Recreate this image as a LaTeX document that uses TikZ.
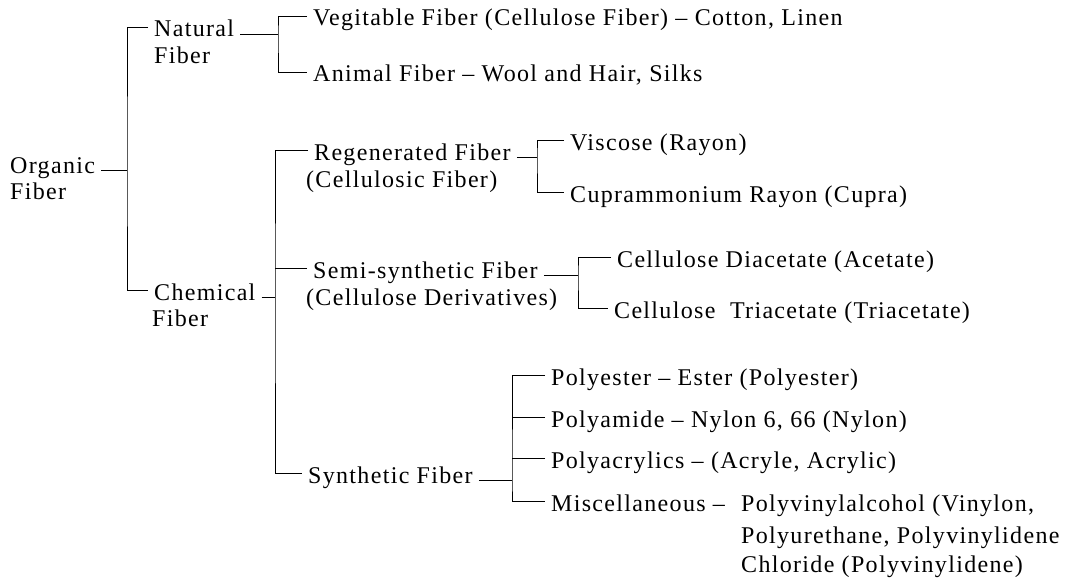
\documentclass[tikz,border=0pt]{standalone}
\usepackage{fontspec}
\setmainfont{Liberation Serif}[LetterSpace=5.5]
\tikzset{
  lbl/.style={font=\fontsize{24}{28}\selectfont, inner xsep=6pt, inner ysep=0pt,
    text height=20pt, text depth=0pt, anchor=base west},
  link/.style={draw, line width=0.9pt}
}
\begin{document}
\begin{tikzpicture}[x=1pt, y=-1pt]
\useasboundingbox (0,0) rectangle (1067,583);
% first level
\node[lbl] (org) at (4,173) {Organic};
\node[lbl] (orgb) at (4,199) {Fiber};
\node[lbl] (nat) at (148,37) {Natural};
\node[lbl] (natb) at (148,64) {Fiber};
\node[lbl] (chem) at (148,300) {Chemical};
\node[lbl] (chemb) at (146,326) {Fiber};
% natural fibers
\node[lbl] (veg) at (307,26) {Vegitable Fiber (Cellulose Fiber) – Cotton, Linen};
\node[lbl] (ani) at (307,82) {Animal Fiber – Wool and Hair, Silks};
% chemical fibers
\node[lbl] (reg) at (308,160) {Regenerated Fiber};
\node[lbl] (regb) at (300,187) {(Cellulosic Fiber)};
\node[lbl] (visc) at (564,150) {Viscose (Rayon)};
\node[lbl] (cupr) at (564,202) {Cuprammonium Rayon (Cupra)};
\node[lbl] (semi) at (307,278) {Semi-synthetic Fiber};
\node[lbl] (semib) at (300,305) {(Cellulose Derivatives)};
\node[lbl] (diac) at (611,267) {Cellulose Diacetate (Acetate)};
\node[lbl] (triac) at (608,318) {Cellulose~ Triacetate (Triacetate)};
\node[lbl] (syn) at (302,483) {Synthetic Fiber};
\node[lbl] (pest) at (545,385) {Polyester – Ester (Polyester)};
\node[lbl] (pam) at (545,427) {Polyamide – Nylon 6, 66 (Nylon)};
\node[lbl] (pacr) at (545,468) {Polyacrylics – (Acryle, Acrylic)};
\node[lbl] (misc) at (545,511) {Miscellaneous –};
\node[lbl] (misca) at (735,511) {Polyvinylalcohol (Vinylon,};
\node[lbl] (miscb) at (735,543) {Polyurethane, Polyvinylidene};
\node[lbl] (miscc) at (735,572) {Chloride (Polyvinylidene)};
% bracket junctions
\coordinate (jorg) at (127,164);
\coordinate (jnat) at (278,34);
\coordinate (jchem) at (275,295);
\coordinate (jreg) at (537,155);
\coordinate (jsemi) at (578,273);
\coordinate (jsyn) at (512,482);
\draw[link] (org.mid east) -- (org.mid east -| jorg);
\draw[link] (nat.west) -| (jorg) |- (chem.west);
\draw[link] (nat.mid east) -- (nat.mid east -| jnat);
\draw[link] (veg.west) -| (jnat) |- (ani.west);
\draw[link] (chem.mid east) -- (chem.mid east -| jchem);
\draw[link] (reg.west) -| (jchem) |- (syn.west);
\draw[link] (semi.west) -- (semi.west -| jchem);
\draw[link] (reg.mid east) -- (reg.mid east -| jreg);
\draw[link] (visc.west) -| (jreg) |- (cupr.west);
\draw[link] (semi.mid east) -- (semi.mid east -| jsemi);
\draw[link] (diac.west) -| (jsemi) |- (triac.west);
\draw[link] (syn.mid east) -- (syn.mid east -| jsyn);
\draw[link] (pest.west) -| (jsyn) |- (misc.west);
\draw[link] (pam.west) -- (pam.west -| jsyn);
\draw[link] (pacr.west) -- (pacr.west -| jsyn);
\end{tikzpicture}
\end{document}
